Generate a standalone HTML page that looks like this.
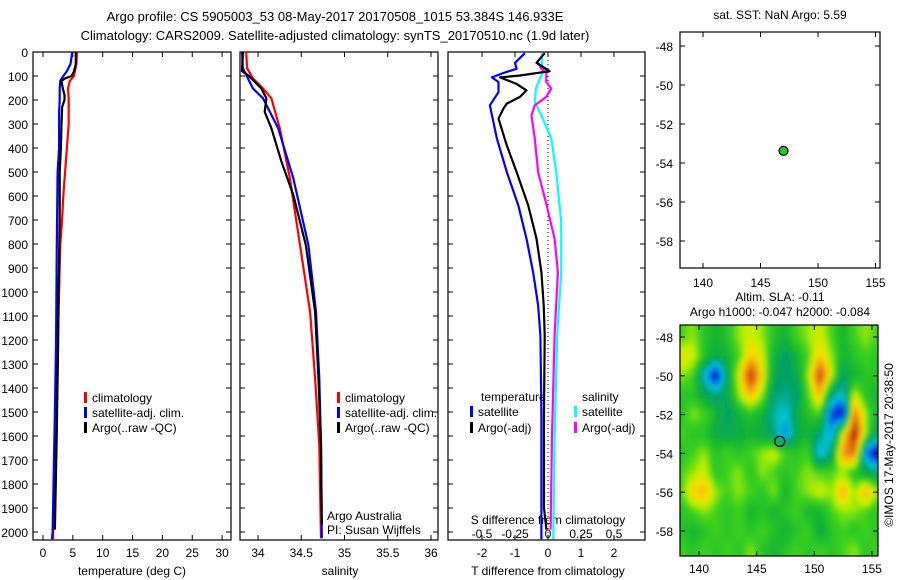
<!DOCTYPE html>
<html><head><meta charset="utf-8"><style>
html,body{margin:0;padding:0;background:#fff;}
svg{display:block;font-family:"Liberation Sans",sans-serif;}
text{font-size:12px;fill:#000;}
</style></head><body>
<svg id="fig" width="900" height="580" viewBox="0 0 900 580">
<defs>
<filter id="blur" x="0" y="0" width="1" height="1"><feGaussianBlur stdDeviation="2"/></filter>
<clipPath id="mapclip"><rect x="680" y="325" width="198" height="231"/></clipPath>
</defs>
<text x="335" y="21" text-anchor="middle" style="font-size:13px">Argo profile: CS 5905003_53 08-May-2017 20170508_1015 53.384S 146.933E</text>
<text x="335" y="40" text-anchor="middle" style="font-size:13px">Climatology: CARS2009. Satellite-adjusted climatology: synTS_20170510.nc (1.9d later)</text>
<g id="g"></g>
</svg>
<script>
// ---- data ----
const depthsClimT=[0,50,100,120,150,200,300,400,500,600,700,800,900,1000,1100,1200,1400,1600,1800,2000,2030];
const tempClim=[5.7,5.6,5.2,4.5,4.2,4.3,4.3,4.0,3.7,3.4,3.2,2.9,2.8,2.7,2.6,2.5,2.3,2.0,1.9,1.7,1.7];
const depthsSatT=[0,50,80,100,120,150,200,250,400,500,850,1200,1500,2000,2030];
const tempSat=[4.9,4.6,4.0,3.4,2.9,2.8,2.8,2.7,2.7,2.45,2.3,2.2,2.0,1.6,1.5];
const depthsArgoT=[0,50,80,100,110,120,150,180,200,230,300,400,500,700,1000,1200,1600,1990];
const tempArgo=[5.5,5.5,5.2,4.8,3.7,3.1,3.3,3.6,3.6,3.2,3.1,3.0,2.8,2.8,2.6,2.55,2.3,2.0];

const depthsS=[0,68,110,152,193,318,526,804,1082,1360,1637,2026];
const salClim=[33.864,33.874,33.942,34.058,34.155,34.252,34.369,34.486,34.602,34.66,34.709,34.728];
const salSat=[33.815,33.825,33.883,33.942,34.058,34.233,34.408,34.583,34.67,34.709,34.728,34.738];
const depthsArgoS=[0,80,96,152,193,249,318,457,596,804,1082,1360,1637,1971];
const salArgo=[33.825,33.815,33.883,34.039,34.097,34.078,34.155,34.272,34.408,34.553,34.66,34.699,34.728,34.738];

const depthsDT=[5,45,70,85,106,125,167,222,361,500,639,778,917,1055,1180,1500,2030];
const dTsat=[-0.7,-1.0,-0.95,-1.3,-1.7,-1.5,-1.5,-1.76,-1.55,-1.25,-0.9,-0.65,-0.45,-0.3,-0.23,-0.2,-0.2];
const depthsDTa=[5,45,80,98,106,133,160,187,215,236,278,389,500,639,778,917,1055,1180,1500,1900,1990];
const dTargo=[-0.1,-0.35,0.05,-0.85,-1.45,-0.95,-0.65,-0.85,-1.25,-1.35,-1.5,-1.25,-0.95,-0.6,-0.35,-0.2,-0.13,-0.1,-0.12,-0.12,-0.05];
const depthsDS=[5,85,150,208,264,361,500,708,917,1180,1600,2030];
const dSsat=[-0.048,-0.04,-0.09,-0.10,-0.05,0.025,0.063,0.10,0.10,0.07,0.05,0.04];
const depthsDSa=[45,70,85,125,152,187,222,264,361,500,639,778,917,1180,1600,1990];
const dSargo=[-0.075,-0.05,-0.013,-0.013,0.025,-0.013,-0.10,-0.125,-0.1,-0.075,-0.01,0.05,0.075,0.05,0.03,0.02];

const depthTicks=[0,100,200,300,400,500,600,700,800,900,1000,1100,1200,1300,1400,1500,1600,1700,1800,1900,2000];
const tempTicks=[0,5,10,15,20,25,30];
const salTicks=[34,34.5,35,35.5,36];
const salTickLabels=["34","34.5","35","35.5","36"];
const dTTicks=[-2,-1,0,1,2];
const dSTicks=[-0.5,-0.25,0,0.25,0.5];
const lonTicks=[140,145,150,155];
const latTicks=[-48,-50,-52,-54,-56,-58];
const argoLon=[147.0];
const argoLat=[-53.38];
const slaLons=[138.5,139.5,140.5,141.5,142.5,143.5,144.5,145.5,146.5,147.5,148.5,149.5,150.5,151.5,152.5,153.5,154.5,155.5];
const slaLats=[-48,-49,-50,-51,-52,-53,-54,-55,-56,-57,-58,-59];
const sla=[
[0.1,0.2,0.0,-0.1,0.0,0.2,0.3,0.2,0.0,-0.1,0.1,0.2,0.3,0.1,-0.1,0.1,0.2,0.1],
[0.35,0.3,0.0,-0.2,-0.1,0.1,0.45,0.3,-0.1,-0.3,-0.1,0.1,0.45,0.2,-0.1,0.0,0.1,0.0],
[0.2,0.1,-0.5,-1.0,-0.2,0.3,0.9,0.4,-0.2,-0.3,-0.2,0.2,0.85,0.3,-0.3,-0.1,0.0,0.0],
[0.0,0.0,-0.2,-0.3,-0.2,0.2,0.5,0.2,-0.3,-0.35,-0.3,0.1,0.5,-0.3,-0.5,0.3,0.0,-0.1],
[0.0,0.2,0.1,-0.1,-0.3,-0.1,0.0,-0.1,-0.4,-0.5,-0.2,0.0,0.1,-0.8,-1.0,0.7,0.2,-0.1],
[0.1,0.0,0.0,-0.2,-0.2,-0.2,-0.1,-0.2,-0.3,-0.7,-0.2,-0.1,-0.3,-0.6,0.3,1.0,0.2,-0.3],
[0.0,0.1,0.2,0.0,0.1,0.0,0.1,0.2,0.3,0.1,0.0,0.1,-0.6,-0.3,0.6,0.7,-0.7,-1.0],
[0.1,0.2,0.3,0.0,0.1,0.2,0.0,0.2,0.1,0.0,0.1,0.2,0.1,0.1,0.2,0.0,-0.2,-0.3],
[0.1,0.45,0.5,0.2,0.1,0.2,0.1,0.0,0.2,-0.1,0.1,0.2,0.3,0.2,0.55,0.2,0.55,0.2],
[0.0,0.1,0.2,0.1,0.0,0.1,-0.1,0.0,-0.1,0.0,0.1,-0.1,-0.1,0.1,0.2,0.2,0.1,0.0],
[0.0,-0.1,0.0,0.1,0.0,0.1,0.0,0.1,0.0,-0.1,0.0,0.1,-0.2,0.0,0.1,0.0,0.1,0.0],
[0.1,0.0,0.1,0.0,0.1,0.0,0.2,0.0,-0.1,0.0,0.1,0.0,0.1,0.0,0.1,0.2,0.0,0.1]];

// ---- scales ----
const yD=d=>52+0.24*d;
const xT=t=>43+5.97*t;
const xS=s=>258+86.5*(s-34);
const xDT=t=>548+33*t;
const xDS=s=>548+132*s;
const m1x=l=>703+11.5*(l-140), m1y=l=>46+19.5*(-48-l);
const m2x=l=>699+11.53*(l-140), m2y=l=>337+19.4*(-48-l);

const NS='http://www.w3.org/2000/svg';
const G=document.getElementById('g');
function el(tag,attrs,parent){const e=document.createElementNS(NS,tag);for(const k in attrs)e.setAttribute(k,attrs[k]);(parent||G).appendChild(e);return e;}
function txt(x,y,s,anchor){const t=el('text',{x:x,y:y,'text-anchor':anchor||'start'});t.textContent=s;return t;}
function line(vals,depths,xf,color,name,w){
  const pts=vals.map((v,i)=>xf(v).toFixed(1)+','+yD(depths[i]).toFixed(1)).join(' ');
  const p=el('polyline',{points:pts,fill:'none',stroke:color,'stroke-width':w||2.2,'stroke-linejoin':'round'});
  
  
}
function panel(x0,x1,y0,y1,name){
  const r=el('rect',{x:x0,y:y0,width:x1-x0,height:y1-y0,fill:'none',stroke:'#000','stroke-width':1.2});
  
  
}
// ---- profile panels ----
const P=[[33,231],[240,438],[448,645]];
P.forEach((p,i)=>{panel(p[0],p[1],52,540,['temperature-panel','salinity-panel','difference-panel'][i]);
  depthTicks.forEach(d=>{el('line',{x1:p[0],x2:p[0]+5,y1:yD(d),y2:yD(d),stroke:'#000'});el('line',{x1:p[1]-5,x2:p[1],y1:yD(d),y2:yD(d),stroke:'#000'});});
});
depthTicks.forEach(d=>{const t=txt(28,yD(d)+5,String(d),'end');
  
  });
tempTicks.forEach(v=>{const x=xT(v);el('line',{x1:x,x2:x,y1:535,y2:540,stroke:'#000'});el('line',{x1:x,x2:x,y1:52,y2:57,stroke:'#000'});
  const t=txt(x,557,String(v),'middle');
  
  });
salTicks.forEach((v,i)=>{const x=xS(v);el('line',{x1:x,x2:x,y1:535,y2:540,stroke:'#000'});el('line',{x1:x,x2:x,y1:52,y2:57,stroke:'#000'});
  const t=txt(x,557,salTickLabels[i],'middle');
  
  });
dTTicks.forEach(v=>{const x=xDT(v);el('line',{x1:x,x2:x,y1:535,y2:540,stroke:'#000'});el('line',{x1:x,x2:x,y1:52,y2:57,stroke:'#000'});
  const t=txt(x,557,String(v),'middle');
  
  });
dSTicks.forEach(v=>{const t=txt(xDS(v),538,String(v),'middle');
  
  });
el('line',{x1:548,x2:548,y1:52,y2:540,stroke:'#000','stroke-dasharray':'1,3'});
// axis titles
[[132,'temperature (deg C)'],[340,'salinity'],[548,'T difference from climatology']].forEach(a=>{const t=txt(a[0],575,a[1],'middle');
  
  });
{const t=txt(548,524,'S difference from climatology','middle');
 
 }
// series
line(tempClim,depthsClimT,xT,'#f00','temp-climatology-line');
line(tempSat,depthsSatT,xT,'#00f','temp-satellite-line');
line(tempArgo,depthsArgoT,xT,'#000','temp-argo-line');
line(salClim,depthsS,xS,'#f00','salinity-climatology-line');
line(salSat,depthsS,xS,'#00f','salinity-satellite-line');
line(salArgo,depthsArgoS,xS,'#000','salinity-argo-line');
line(dSsat,depthsDS,xDS,'#0ff','sdiff-satellite-line');
line(dSargo,depthsDSa,xDS,'#f0f','sdiff-argo-line');
line(dTsat,depthsDT,xDT,'#00f','tdiff-satellite-line');
line(dTargo,depthsDTa,xDT,'#000','tdiff-argo-line');
// legends
function leg(x,y,color,label,name){el('rect',{x:x,y:y-10,width:3,height:11,fill:color});const t=txt(x+8,y,label);
  
  }
leg(84,402,'#f00','climatology','legend-climatology');
leg(84,417,'#00f','satellite-adj. clim.','legend-satellite');
leg(84,432,'#000','Argo(..raw -QC)','legend-argo');
leg(337,402,'#f00','climatology','legend-climatology-2');
leg(337,417,'#00f','satellite-adj. clim.','legend-satellite-2');
leg(337,432,'#000','Argo(..raw -QC)','legend-argo-2');
{const t=txt(481,401,'temperature');}
{const t=txt(582,401,'salinity');}
leg(470,416,'#00f','satellite','legend-t-satellite');
leg(470,432,'#000','Argo(-adj)','legend-t-argo');
leg(574,416,'#0ff','satellite','legend-s-satellite');
leg(574,432,'#f0f','Argo(-adj)','legend-s-argo');
{const t=txt(327,520,'Argo Australia');}
{const t=txt(327,534,'PI: Susan Wijffels');}

// ---- map 1 ----
panel(680,880,32,268,'sst-map');
{const t=txt(780,19,'sat. SST: NaN Argo: 5.59','middle');}
lonTicks.forEach(v=>{const x=m1x(v);el('line',{x1:x,x2:x,y1:263,y2:268,stroke:'#000'});el('line',{x1:x,x2:x,y1:32,y2:37,stroke:'#000'});
  const t=txt(x,287,String(v),'middle');});
latTicks.forEach(v=>{const y=m1y(v);el('line',{x1:680,x2:685,y1:y,y2:y,stroke:'#000'});el('line',{x1:875,x2:880,y1:y,y2:y,stroke:'#000'});
  const t=txt(673,y+5,String(v),'end');});
argoLon.forEach((lo,i)=>{const c=el('circle',{cx:m1x(lo),cy:m1y(argoLat[i]),r:4.5,fill:'#2c2',stroke:'#000','stroke-width':1.2});
  });

// ---- map 2 (SLA) ----
function cmap(v){const st=[[-1,[0,0,190]],[-0.7,[0,100,230]],[-0.5,[0,200,220]],[-0.3,[0,160,110]],[-0.1,[20,180,50]],[0.1,[60,210,30]],[0.25,[190,240,0]],[0.4,[250,220,0]],[0.6,[240,140,20]],[0.8,[210,80,10]],[1.0,[160,30,0]]];
  v=Math.max(-1,Math.min(1,v));for(let i=1;i<st.length;i++){if(v<=st[i][0]){const a=st[i-1],b=st[i],f=(v-a[0])/(b[0]-a[0]);return 'rgb('+a[1].map((c,k)=>Math.round(c+f*(b[1][k]-c))).join(',')+')';}}return 'rgb(160,30,0)';}
function slaAt(lo,la){
  let fi=(lo-slaLons[0]); fi=Math.max(0,Math.min(slaLons.length-1.0001,fi));
  let fj=(slaLats[0]-la); fj=Math.max(0,Math.min(slaLats.length-1.0001,fj));
  const i=Math.floor(fi),j=Math.floor(fj),a=fi-i,b=fj-j;
  return sla[j][i]*(1-a)*(1-b)+sla[j][i+1]*a*(1-b)+sla[j+1][i]*(1-a)*b+sla[j+1][i+1]*a*b;
}
const hg=el('g',{'clip-path':'url(#mapclip)'});
const hb=el('g',{filter:'url(#blur)'},hg);
const step=0.25;
for(let la=-47;la>-60;la-=step){for(let lo=137.5;lo<156.5;lo+=step){
  const x0=m2x(lo),x1=m2x(lo+step),y0=m2y(la),y1=m2y(la-step);
  const cell=el('rect',{x:x0-0.3,y:y0-0.3,width:x1-x0+0.6,height:y1-y0+0.6,fill:cmap(slaAt(lo+step/2,la-step/2))},hb);
  
  
}}
panel(680,878,325,556,'sla-map');
{const t=txt(780,301,'Altim. SLA: -0.11','middle');}
{const t=txt(780,316,'Argo h1000: -0.047 h2000: -0.084','middle');}
lonTicks.forEach(v=>{const x=m2x(v);el('line',{x1:x,x2:x,y1:551,y2:556,stroke:'#000'});el('line',{x1:x,x2:x,y1:325,y2:330,stroke:'#000'});
  const t=txt(x,573,String(v),'middle');});
latTicks.forEach(v=>{const y=m2y(v);el('line',{x1:680,x2:685,y1:y,y2:y,stroke:'#000'});el('line',{x1:873,x2:878,y1:y,y2:y,stroke:'#000'});
  const t=txt(673,y+5,String(v),'end');});
argoLon.forEach((lo,i)=>{const c=el('circle',{cx:m2x(lo),cy:m2y(argoLat[i]),r:5,fill:'none',stroke:'#000','stroke-width':1.2});
  });
{const t=txt(0,0,'©IMOS 17-May-2017 20:38:50','middle');t.setAttribute('transform','translate(893,445) rotate(-90)');
 }
</script>
</body></html>
